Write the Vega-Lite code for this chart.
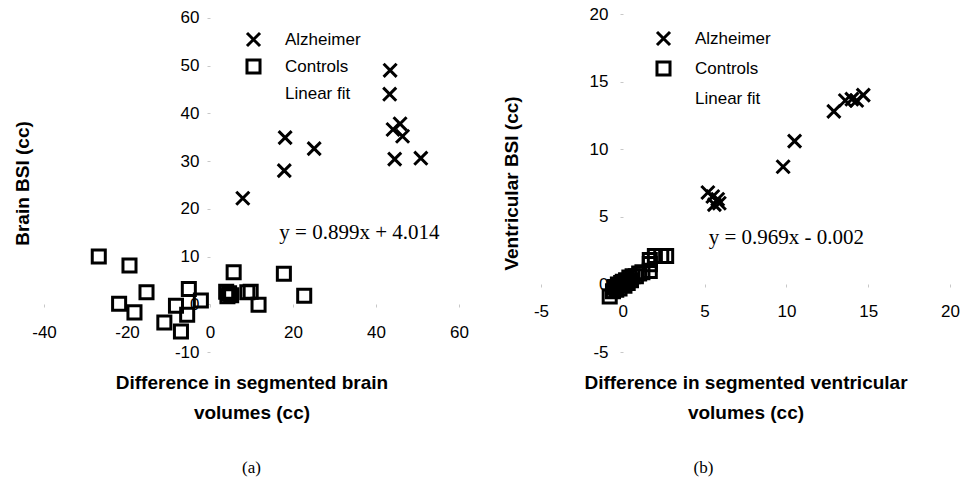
{
  "$schema": "https://vega.github.io/schema/vega-lite/v6.json",
  "padding": {"left": 12, "top": 5, "right": 5, "bottom": 5},
  "background": "white",
  "spacing": 33,
  "config": {
    "view": {"stroke": null},
    "font": "Liberation Sans",
    "axis": {
      "domain": false, "grid": false,
      "tickColor": "#c8c8c8", "tickSize": 3, "tickWidth": 1,
      "labelFont": "Liberation Sans", "labelFontSize": 17, "labelColor": "#000",
      "labelFlush": false, "labelOverlap": false,
      "labelExpr": "replace(datum.label, '\u2212', '-')",
      "titleFont": "Liberation Sans", "titleFontSize": 19, "titleFontWeight": "bold", "titleColor": "#000"
    },
    "legend": {
      "orient": "none", "title": null, "padding": 0,
      "labelFont": "Liberation Sans", "labelFontSize": 17, "labelColor": "#000",
      "symbolStrokeColor": "#000", "symbolStrokeWidth": 3, "symbolFillColor": "transparent",
      "symbolSize": 170, "labelOffset": 23
    },
    "title": {"font": "Liberation Serif", "fontSize": 17, "fontWeight": "normal", "color": "#000"}
  },
  "datasets": {
    "brain": [
      {"x": 7.9, "y": 22.2, "group": "Alzheimer"},
      {"x": 17.9, "y": 28.0, "group": "Alzheimer"},
      {"x": 18.1, "y": 34.9, "group": "Alzheimer"},
      {"x": 25.1, "y": 32.6, "group": "Alzheimer"},
      {"x": 43.4, "y": 49.0, "group": "Alzheimer"},
      {"x": 43.3, "y": 44.0, "group": "Alzheimer"},
      {"x": 44.1, "y": 36.6, "group": "Alzheimer"},
      {"x": 45.8, "y": 37.8, "group": "Alzheimer"},
      {"x": 46.4, "y": 35.2, "group": "Alzheimer"},
      {"x": 44.5, "y": 30.4, "group": "Alzheimer"},
      {"x": 50.8, "y": 30.6, "group": "Alzheimer"},
      {"x": -26.8, "y": 10.0, "group": "Controls"},
      {"x": -19.4, "y": 8.1, "group": "Controls"},
      {"x": -15.3, "y": 2.5, "group": "Controls"},
      {"x": -21.9, "y": 0.1, "group": "Controls"},
      {"x": -18.2, "y": -1.7, "group": "Controls"},
      {"x": -11.0, "y": -3.8, "group": "Controls"},
      {"x": -7.0, "y": -5.7, "group": "Controls"},
      {"x": -8.2, "y": -0.3, "group": "Controls"},
      {"x": -5.5, "y": -2.2, "group": "Controls"},
      {"x": -5.1, "y": 3.2, "group": "Controls"},
      {"x": -2.2, "y": 0.8, "group": "Controls"},
      {"x": 5.7, "y": 6.7, "group": "Controls"},
      {"x": 3.9, "y": 2.6, "group": "Controls"},
      {"x": 4.6, "y": 2.3, "group": "Controls"},
      {"x": 5.1, "y": 1.9, "group": "Controls"},
      {"x": 4.2, "y": 1.7, "group": "Controls"},
      {"x": 9.0, "y": 2.5, "group": "Controls"},
      {"x": 9.8, "y": 2.6, "group": "Controls"},
      {"x": 11.7, "y": -0.1, "group": "Controls"},
      {"x": 17.8, "y": 6.4, "group": "Controls"},
      {"x": 22.7, "y": 1.8, "group": "Controls"}
    ],
    "vent": [
      {"x": 5.2, "y": 6.8, "group": "Alzheimer"},
      {"x": 5.5, "y": 6.5, "group": "Alzheimer"},
      {"x": 5.8, "y": 6.3, "group": "Alzheimer"},
      {"x": 5.9, "y": 6.0, "group": "Alzheimer"},
      {"x": 5.6, "y": 5.9, "group": "Alzheimer"},
      {"x": 9.8, "y": 8.7, "group": "Alzheimer"},
      {"x": 10.5, "y": 10.6, "group": "Alzheimer"},
      {"x": 12.9, "y": 12.8, "group": "Alzheimer"},
      {"x": 13.6, "y": 13.6, "group": "Alzheimer"},
      {"x": 14.0, "y": 13.7, "group": "Alzheimer"},
      {"x": 14.3, "y": 13.6, "group": "Alzheimer"},
      {"x": 14.7, "y": 14.0, "group": "Alzheimer"},
      {"x": -0.8, "y": -0.9, "group": "Controls"},
      {"x": -0.6, "y": -0.5, "group": "Controls"},
      {"x": -0.5, "y": -0.2, "group": "Controls"},
      {"x": -0.4, "y": -0.4, "group": "Controls"},
      {"x": -0.3, "y": 0.0, "group": "Controls"},
      {"x": -0.2, "y": -0.3, "group": "Controls"},
      {"x": -0.1, "y": 0.1, "group": "Controls"},
      {"x": 0.0, "y": 0.2, "group": "Controls"},
      {"x": 0.1, "y": -0.1, "group": "Controls"},
      {"x": 0.2, "y": 0.3, "group": "Controls"},
      {"x": 0.3, "y": 0.1, "group": "Controls"},
      {"x": 0.4, "y": 0.5, "group": "Controls"},
      {"x": 0.5, "y": 0.3, "group": "Controls"},
      {"x": 0.6, "y": 0.6, "group": "Controls"},
      {"x": 0.8, "y": 0.6, "group": "Controls"},
      {"x": 1.0, "y": 0.8, "group": "Controls"},
      {"x": 1.2, "y": 0.9, "group": "Controls"},
      {"x": 1.65, "y": 1.0, "group": "Controls"},
      {"x": 1.65, "y": 1.5, "group": "Controls"},
      {"x": 1.65, "y": 1.8, "group": "Controls"},
      {"x": 1.96, "y": 2.1, "group": "Controls"},
      {"x": 2.35, "y": 2.1, "group": "Controls"},
      {"x": 2.65, "y": 2.1, "group": "Controls"}
    ]
  },
  "resolve": {"scale": {"shape": "independent"}, "legend": {"shape": "independent"}},
  "hconcat": [
    {
      "width": 415, "height": 338,
      "title": {"text": "(a)", "orient": "bottom", "anchor": "middle", "frame": "group", "offset": 38},
      "layer": [
        {
          "data": {"name": "brain"},
          "mark": {"type": "point", "filled": false, "stroke": "#000", "strokeWidth": 3, "size": 170, "opacity": 1},
          "encoding": {
            "x": {"field": "x", "type": "quantitative",
              "scale": {"domain": [-40, 60], "nice": false, "zero": false},
              "axis": {"values": [-40, -20, 0, 20, 40, 60], "offset": -48, "labelPadding": 17.5,
                "title": ["Difference in segmented brain", "volumes (cc)"], "titleLineHeight": 30,
                "titleX": 207.5, "titleY": 69, "titleBaseline": "top"}},
            "y": {"field": "y", "type": "quantitative",
              "scale": {"domain": [-10, 60.8], "nice": false, "zero": false},
              "axis": {"values": [-10, 0, 10, 20, 30, 40, 50, 60], "offset": -166, "labelPadding": 8,
                "title": "Brain BSI (cc)", "titleX": -178, "titleY": 169}},
            "shape": {"field": "group", "type": "nominal",
              "scale": {"domain": ["Alzheimer", "Controls", "Linear fit"], "range": ["M-1,-1L1,1M-1,1L1,-1", "square", "M-1,-1L-1,-1M1,1L1,1"]},
              "legend": {"legendX": 201, "legendY": 17, "rowPadding": 0}}
          }
        },
        {
          "data": {"values": [{}]},
          "mark": {"type": "text", "font": "Liberation Serif", "fontSize": 21, "color": "#000"},
          "encoding": {"x": {"datum": 36}, "y": {"datum": 15}, "text": {"value": "y = 0.899x + 4.014"}}
        }
      ]
    },
    {
      "width": 409, "height": 338,
      "title": {"text": "(b)", "orient": "bottom", "anchor": "middle", "frame": "group", "offset": 38, "dx": -42},
      "layer": [
        {
          "data": {"name": "vent"},
          "mark": {"type": "point", "filled": false, "stroke": "#000", "strokeWidth": 3, "size": 170, "opacity": 1},
          "encoding": {
            "x": {"field": "x", "type": "quantitative",
              "scale": {"domain": [-5, 20], "nice": false, "zero": false},
              "axis": {"values": [-5, 0, 5, 10, 15, 20], "offset": -68, "labelPadding": 16,
                "title": ["Difference in segmented ventricular", "volumes (cc)"], "titleLineHeight": 30,
                "titleX": 204.5, "titleY": 89, "titleBaseline": "top"}},
            "y": {"field": "y", "type": "quantitative",
              "scale": {"domain": [-5, 20], "nice": false, "zero": false},
              "axis": {"values": [-5, 0, 5, 10, 15, 20], "offset": -82, "labelPadding": 12,
                "title": "Ventricular BSI (cc)", "titleX": -102, "titleY": 169}},
            "shape": {"field": "group", "type": "nominal",
              "scale": {"domain": ["Alzheimer", "Controls", "Linear fit"], "range": ["M-1,-1L1,1M-1,1L1,-1", "square", "M-1,-1L-1,-1M1,1L1,1"]},
              "legend": {"legendX": 114, "legendY": 16, "rowPadding": 3}}
          }
        },
        {
          "data": {"values": [{}]},
          "mark": {"type": "text", "font": "Liberation Serif", "fontSize": 21, "color": "#000"},
          "encoding": {"x": {"datum": 10}, "y": {"datum": 3.4}, "text": {"value": "y = 0.969x - 0.002"}}
        }
      ]
    }
  ]
}
